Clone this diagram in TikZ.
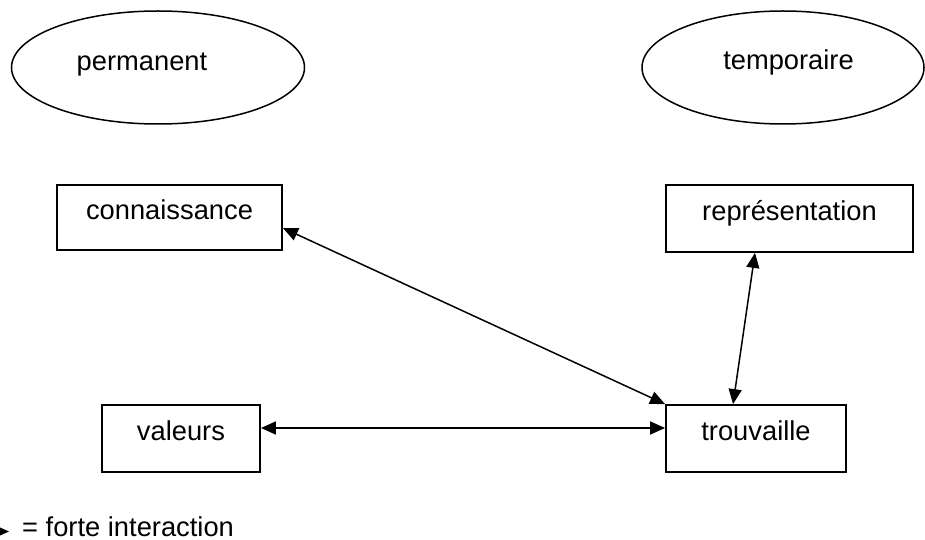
\documentclass[tikz,border=0pt]{standalone}
\usepackage{fontspec}
\setmainfont{Liberation Sans}
\usetikzlibrary{arrows.meta,shapes.geometric}
\begin{document}
\begin{tikzpicture}[x=1pt,y=-1pt,
  every node/.style={font=\fontsize{27.3}{32}\selectfont},
  zone/.style={draw,ellipse,line width=1.5pt,inner sep=0pt},
  caption/.style={anchor=base,inner sep=0pt},
  item/.style={draw,rectangle,line width=1.8pt,inner sep=0pt,text height=12pt,text depth=9pt},
  link/.style={line width=1.5pt,{Triangle[length=15pt,width=13pt]}-{Triangle[length=15pt,width=13pt]}},
  onetip/.style={line width=1.5pt,-{Triangle[length=15pt,width=13pt]}}
]
\useasboundingbox (0,0) rectangle (925,540);
\clip (0,0) rectangle (925,540);

% the two time zones
\node[zone,minimum width=293pt,minimum height=113pt] (perm) at (158,67.5) {};
\node[caption] (permtext) at (142,71) {permanent};
\node[zone,minimum width=282pt,minimum height=113pt] (temp) at (783,67.5) {};
\node[caption] (temptext) at (788.5,70) {temporaire};

% the four elements
\node[item,minimum width=225pt,minimum height=65pt] (conn) at (169.5,217.5) {connaissance};
\node[item,minimum width=247pt,minimum height=67pt] (repr) at (789.5,218.5) {représentation};
\node[item,minimum width=158pt,minimum height=67pt] (val) at (181,438.5) {valeurs};
\node[item,minimum width=180pt,minimum height=67pt] (trouv) at (756,438.5) {trouvaille};

% interactions
\draw[link] ([yshift=-10.5pt]conn.east) -- (trouv.north west);
\draw[link] ([xshift=-34.5pt]repr.south) -- ([xshift=-23pt]trouv.north);
\draw[link] ([yshift=10.5pt]val.east) -- ([yshift=10.5pt]trouv.west);

% legend
\coordinate (legfrom) at (-40,531.5);
\coordinate (legto) at (9,531.5);
\draw[onetip] (legfrom) -- (legto);
\node[caption,anchor=base west,text depth=0pt] (legtext) at (22,536) {= forte interaction};
\end{tikzpicture}
\end{document}
